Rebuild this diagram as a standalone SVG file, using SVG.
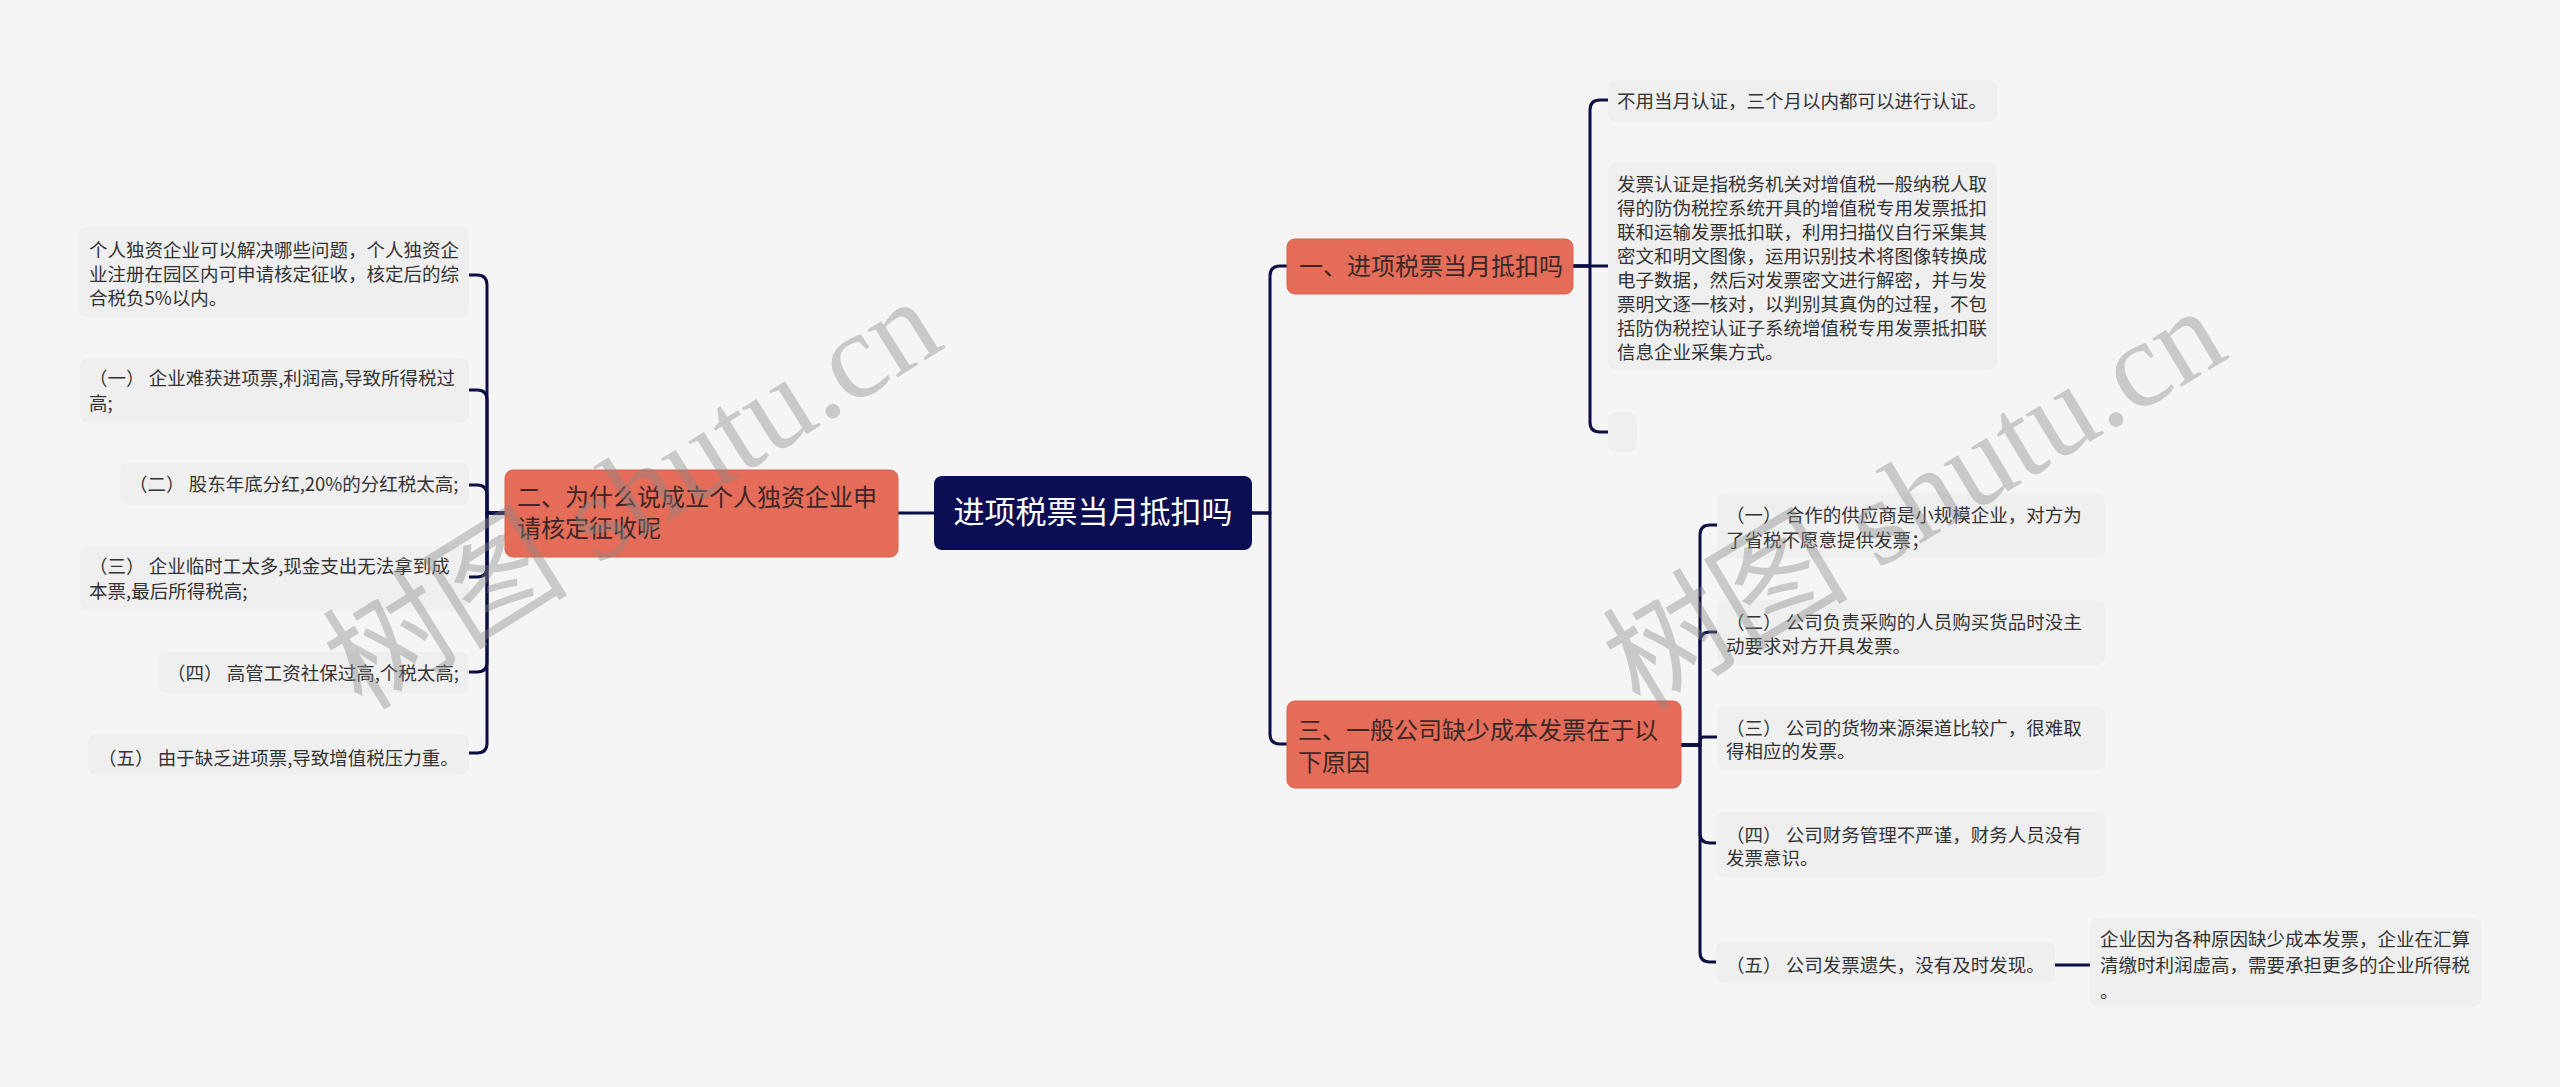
<svg xmlns="http://www.w3.org/2000/svg" width="2560" height="1087" viewBox="0 0 2560 1087">
<style>
.bg{fill:#f5f5f5}
.leaf rect{fill:#efefef}
.leaf text{font-family:"Noto Sans CJK SC","Liberation Sans",sans-serif;font-size:18.5px;fill:#333333}
.branch rect{fill:#e56c58;stroke:#d8614e;stroke-width:1}
.branch text{font-family:"Noto Sans CJK SC","Liberation Sans",sans-serif;font-size:24px;fill:#3a2826}
.root rect{fill:#0b0e52}
.root text{font-family:"Noto Sans CJK SC","Liberation Sans",sans-serif;font-size:31px;fill:#ffffff}
#connectors path{fill:none;stroke:#0b0d45;stroke-width:3;stroke-linejoin:round}
.wm{font-family:"Liberation Serif","Noto Sans CJK SC",serif;font-size:123px;fill:#888888;opacity:0.4}
</style>
<rect class="bg" x="0" y="0" width="2560" height="1087"/>

<g id="connectors">
<path d="M934 513 H898"/>
<path d="M505 513 H487 V285 Q487 275 477 275 H469"/>
<path d="M505 513 H487 V400 Q487 390 477 390 H469"/>
<path d="M505 513 H487 V495 Q487 485 477 485 H469"/>
<path d="M505 513 H487 V567 Q487 577 477 577 H469"/>
<path d="M505 513 H487 V662 Q487 672 477 672 H469"/>
<path d="M505 513 H487 V743 Q487 753 477 753 H469"/>
<path d="M1252 513 H1270 V276 Q1270 266 1280 266 H1287"/>
<path d="M1252 513 H1270 V734 Q1270 744 1280 744 H1287"/>
<path d="M1573 266 H1590 V110 Q1590 100 1600 100 H1608"/>
<path d="M1573 266 H1608"/>
<path d="M1573 266 H1590 V422 Q1590 432 1600 432 H1608"/>
<path d="M1681 745 H1700 V535 Q1700 525 1710 525 H1717"/>
<path d="M1681 745 H1700 V642 Q1700 632 1710 632 H1717"/>
<path d="M1681 745 H1700 V741 Q1700 737 1704 737 H1717"/>
<path d="M1681 745 H1700 V833 Q1700 843 1710 843 H1717"/>
<path d="M1681 745 H1700 V952 Q1700 962 1710 962 H1717"/>
<path d="M2055 965 H2090"/>
</g>

<g id="root" class="root">
<rect x="934" y="476" width="318" height="74" rx="8"/>
<text x="1093" y="523" text-anchor="middle">进项税票当月抵扣吗</text>
</g>

<g id="b2" class="branch">
<rect x="505" y="470" width="393" height="87" rx="8"/>
<text x="517" y="506">二、为什么说成立个人独资企业申</text>
<text x="517" y="537">请核定征收呢</text>
</g>

<g id="b1" class="branch">
<rect x="1287" y="239" width="286" height="55" rx="8"/>
<text x="1299" y="275">一、进项税票当月抵扣吗</text>
</g>

<g id="b3" class="branch">
<rect x="1287" y="701" width="394" height="87" rx="8"/>
<text x="1298" y="739">三、一般公司缺少成本发票在于以</text>
<text x="1298" y="771">下原因</text>
</g>

<g id="l0" class="leaf">
<rect x="78" y="227" width="391" height="90" rx="8"/>
<text x="89" y="257">个人独资企业可以解决哪些问题，个人独资企</text>
<text x="89" y="281">业注册在园区内可申请核定征收，核定后的综</text>
<text x="89" y="305">合税负5%以内。</text>
</g>
<g id="l1" class="leaf">
<rect x="80" y="358" width="389" height="65" rx="8"/>
<text x="89" y="385">（一） 企业难获进项票,利润高,导致所得税过</text>
<text x="89" y="410">高;</text>
</g>
<g id="l2" class="leaf">
<rect x="120" y="463" width="349" height="42" rx="8"/>
<text x="129" y="491">（二） 股东年底分红,20%的分红税太高;</text>
</g>
<g id="l3" class="leaf">
<rect x="80" y="546" width="389" height="65" rx="8"/>
<text x="89" y="573">（三） 企业临时工太多,现金支出无法拿到成</text>
<text x="89" y="598">本票,最后所得税高;</text>
</g>
<g id="l4" class="leaf">
<rect x="158" y="652" width="311" height="41" rx="8"/>
<text x="167" y="680">（四） 高管工资社保过高,个税太高;</text>
</g>
<g id="l5" class="leaf">
<rect x="88" y="734" width="381" height="41" rx="8"/>
<text x="98" y="765">（五） 由于缺乏进项票,导致增值税压力重。</text>
</g>

<g id="r1a" class="leaf">
<rect x="1608" y="80" width="389" height="42" rx="8"/>
<text x="1617" y="108">不用当月认证，三个月以内都可以进行认证。</text>
</g>
<g id="r1b" class="leaf">
<rect x="1608" y="163" width="389" height="207" rx="8"/>
<text x="1617" y="191">发票认证是指税务机关对增值税一般纳税人取</text>
<text x="1617" y="215">得的防伪税控系统开具的增值税专用发票抵扣</text>
<text x="1617" y="239">联和运输发票抵扣联，利用扫描仪自行采集其</text>
<text x="1617" y="263">密文和明文图像，运用识别技术将图像转换成</text>
<text x="1617" y="287">电子数据，然后对发票密文进行解密，并与发</text>
<text x="1617" y="311">票明文逐一核对，以判别其真伪的过程，不包</text>
<text x="1617" y="335">括防伪税控认证子系统增值税专用发票抵扣联</text>
<text x="1617" y="359">信息企业采集方式。</text>
</g>
<g id="r1c" class="leaf">
<rect x="1608" y="412" width="29" height="40" rx="8"/>
</g>

<g id="r3a" class="leaf">
<rect x="1717" y="493" width="388" height="65" rx="8"/>
<text x="1726" y="522">（一） 合作的供应商是小规模企业，对方为</text>
<text x="1726" y="547">了省税不愿意提供发票；</text>
</g>
<g id="r3b" class="leaf">
<rect x="1717" y="600" width="388" height="65" rx="8"/>
<text x="1726" y="629">（二） 公司负责采购的人员购买货品时没主</text>
<text x="1726" y="653">动要求对方开具发票。</text>
</g>
<g id="r3c" class="leaf">
<rect x="1717" y="706" width="388" height="64" rx="8"/>
<text x="1726" y="735">（三） 公司的货物来源渠道比较广，很难取</text>
<text x="1726" y="758">得相应的发票。</text>
</g>
<g id="r3d" class="leaf">
<rect x="1716" y="812" width="390" height="65" rx="8"/>
<text x="1726" y="842">（四） 公司财务管理不严谨，财务人员没有</text>
<text x="1726" y="865">发票意识。</text>
</g>
<g id="r3e" class="leaf">
<rect x="1716" y="942" width="339" height="41" rx="8"/>
<text x="1726" y="972">（五） 公司发票遗失，没有及时发现。</text>
</g>
<g id="r3e1" class="leaf">
<rect x="2090" y="918" width="391" height="89" rx="8"/>
<text x="2100" y="946">企业因为各种原因缺少成本发票，企业在汇算</text>
<text x="2100" y="972">清缴时利润虚高，需要承担更多的企业所得税</text>
<text x="2100" y="998">。</text>
</g>

<g id="watermarks">
<text class="wm" x="362" y="712" transform="rotate(-32 362 712)">树图 shutu.cn</text>
<text class="wm" x="1640" y="712" transform="rotate(-31 1640 712)">树图 shutu.cn</text>
</g>
</svg>
